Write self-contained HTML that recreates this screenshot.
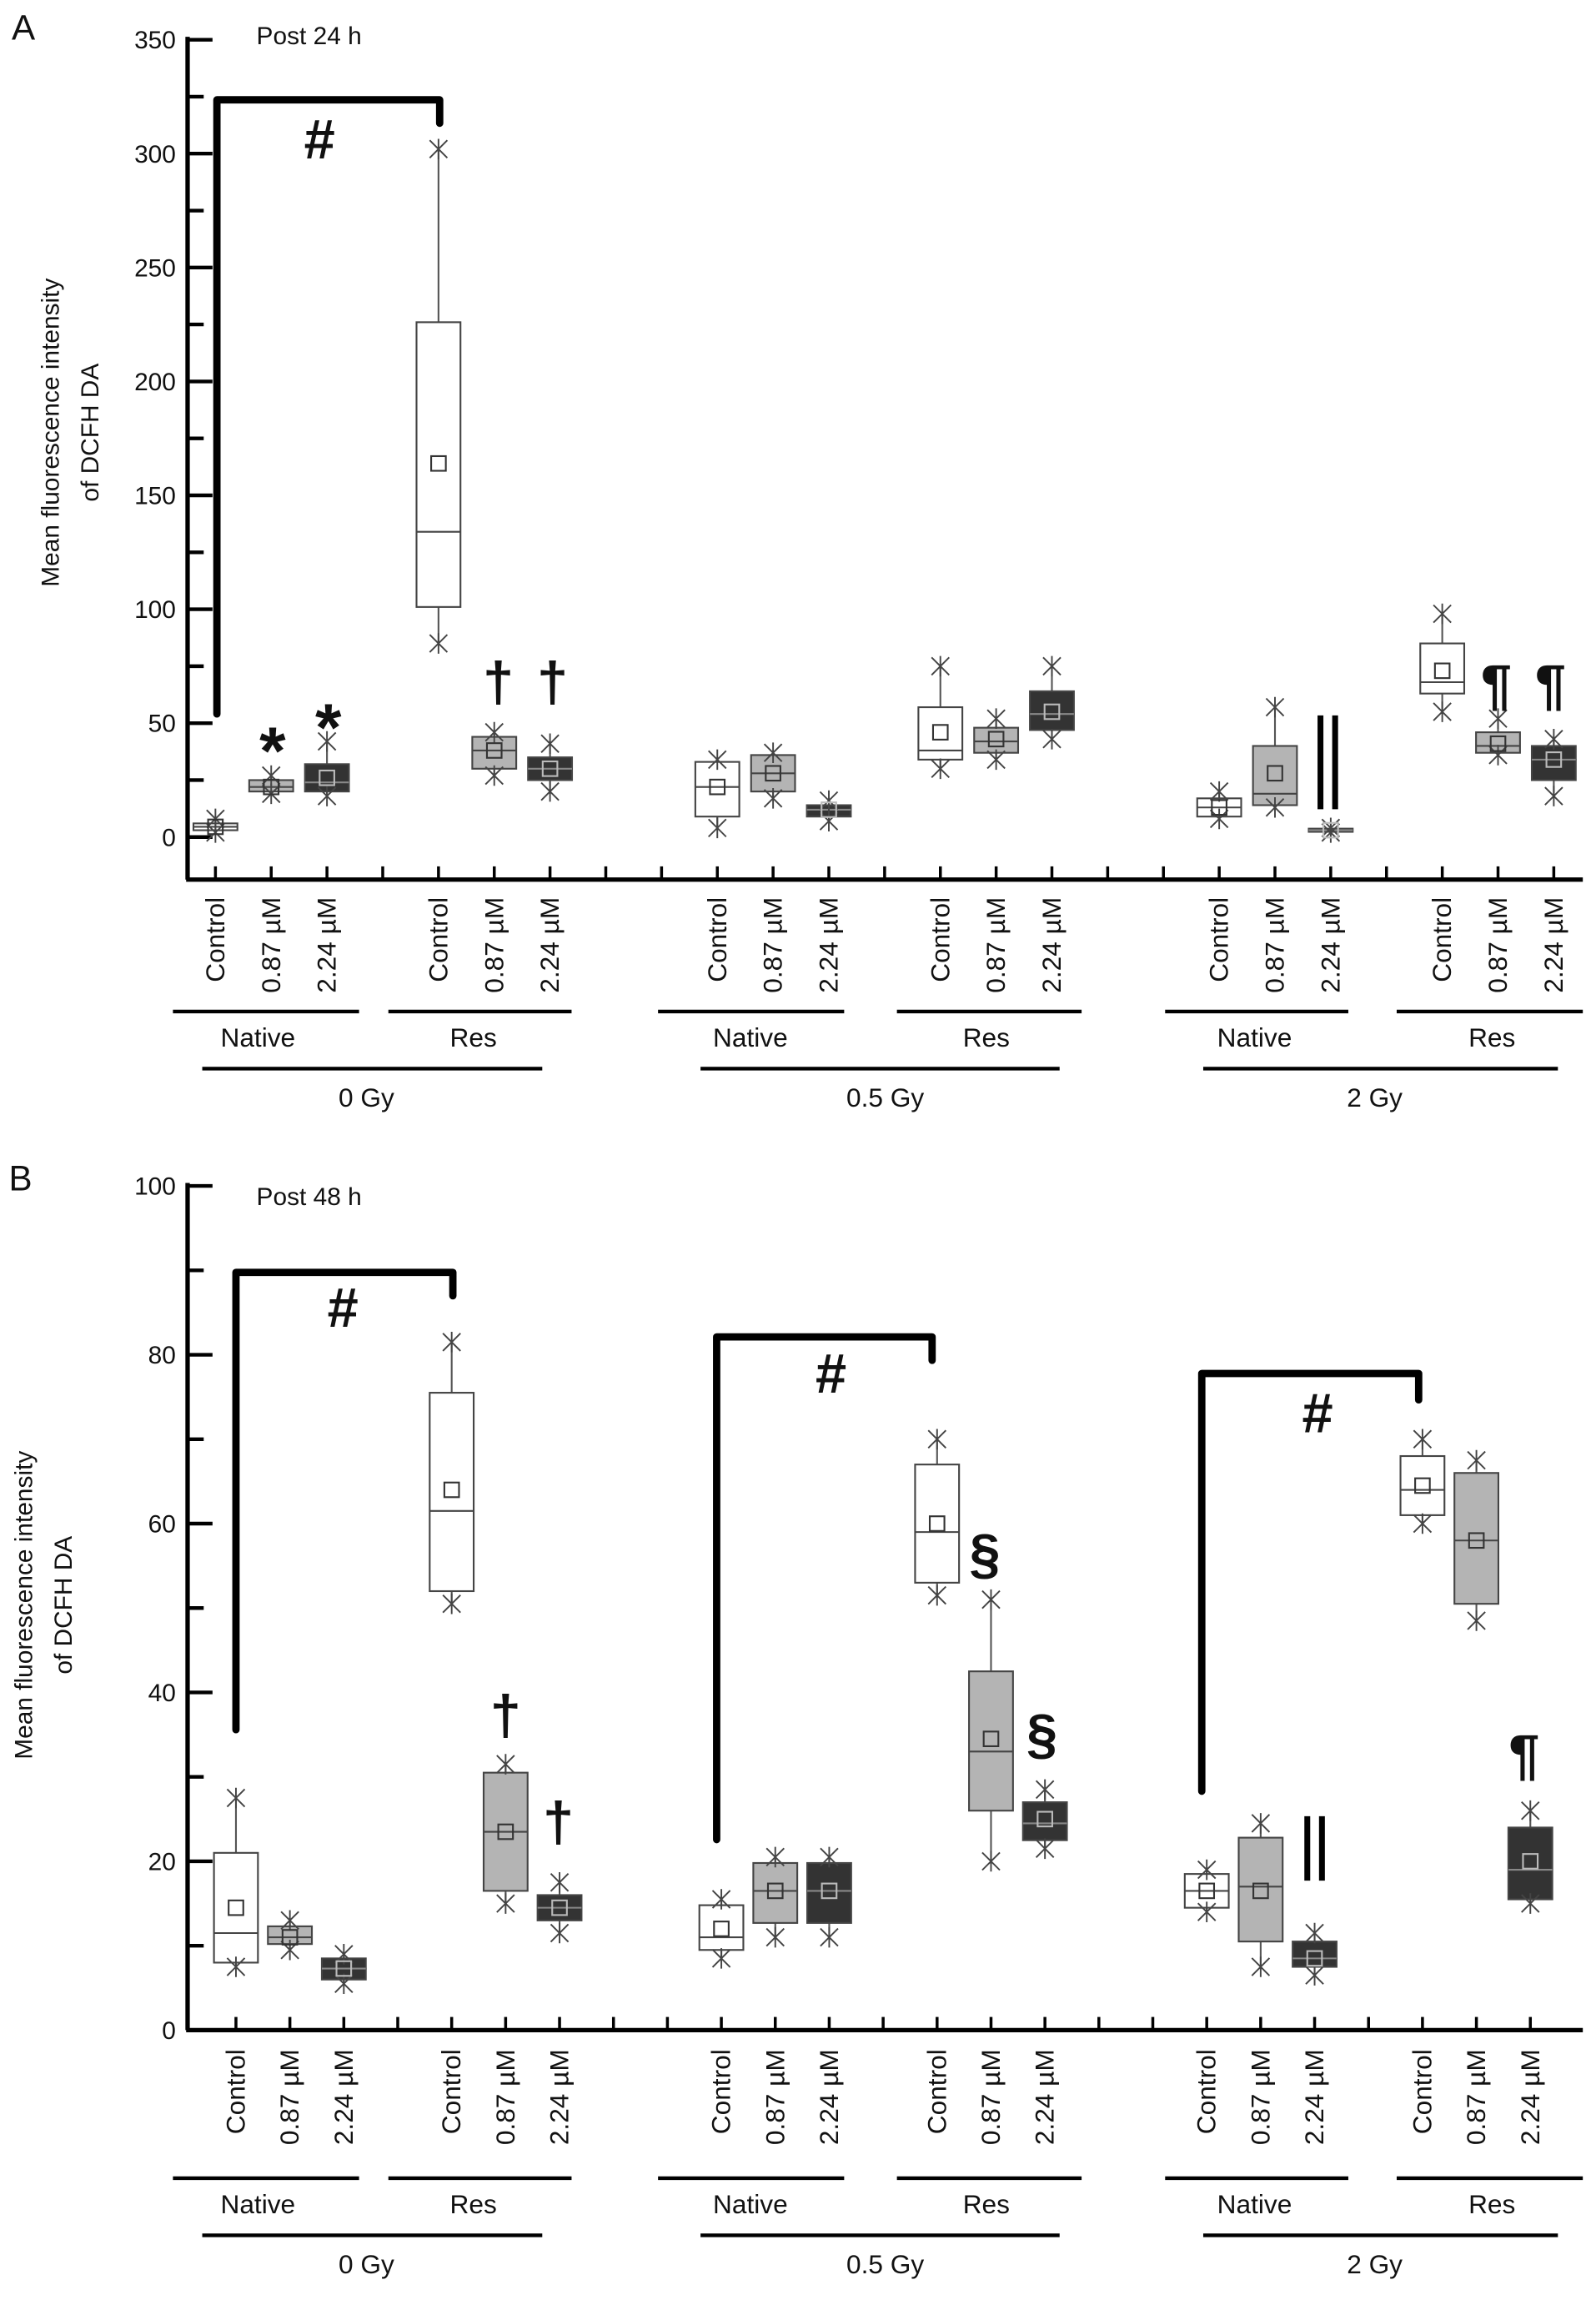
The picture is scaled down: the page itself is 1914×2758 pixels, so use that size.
<!DOCTYPE html>
<html><head><meta charset="utf-8"><style>
html,body{margin:0;padding:0;background:#fff}
svg{display:block}
text{font-family:"Liberation Sans",sans-serif;fill:#111}
</style></head><body>
<svg id="chart" width="1914" height="2758" viewBox="0 0 1089 1569" xmlns="http://www.w3.org/2000/svg"></svg>
<script>
// ---- Panel A data (Post 24 h) ----
const categories = ["Control","0.87 µM","2.24 µM"];
const slotsA = [0,1,2,4,5,6,9,10,11,13,14,15,18,19,20,22,23,24];
const aWhiskLo = [2,19,18,85,27,20,4,17,7,30,34,43,8,13,2,55,36,18];
const aQ1      = [3,20,20,101,30,25,9,20,9,34,37,47,9,14,2.3,63,37,25];
const aMedian  = [4.5,22,24,134,38,30,22,28,12,38,42,54,13,19,3,68,40,34];
const aQ3      = [6,25,32,226,44,35,33,36,14,57,48,64,17,40,3.7,85,46,40];
const aWhiskHi = [8,27,42,302,46,41,34,37,16,75,52,75,20,57,4,98,52,43];
const aMean    = [4.5,22,26,164,38,30,22,28,12,46,43,55,13,28,3,73,41,34];
const aTicks   = [0,50,100,150,200,250,300,350];
// ---- Panel B data (Post 48 h) ----
const slotsB = [0,1,2,4,5,6,9,10,11,13,14,15,18,19,20,22,23,24];
const bWhiskLo = [7.5,9.5,5.5,50.5,15,11.5,8.5,11,11,51.5,20,21.5,14,7.5,6.5,60,48.5,15];
const bQ1      = [8,10.2,6,52,16.5,13,9.5,12.7,12.7,53,26,22.5,14.5,10.5,7.5,61,50.5,15.5];
const bMedian  = [11.5,11,7.3,61.5,23.5,14.5,11,16.5,16.5,59,33,24.5,16.5,17,8.5,64,58,19];
const bQ3      = [21,12.3,8.5,75.5,30.5,16,14.8,19.8,19.8,67,42.5,27,18.5,22.8,10.5,68,66,24];
const bWhiskHi = [27.5,13,9,81.5,31.5,17.5,15.5,20.5,20.5,70,51,28.5,19,24.5,11.5,70,67.5,26];
const bMean    = [14.5,11,7.3,64,23.5,14.5,12,16.5,16.5,60,34.5,25,16.5,16.5,8.5,64.5,58,20];
const bTicks   = [0,20,40,60,80,100];
const fills = ["#ffffff","#b4b4b4","#333333"];

const svg = document.getElementById('chart');
const NS = "http://www.w3.org/2000/svg";
function mk(tag, attrs, parent){const e=document.createElementNS(NS,tag);for(const k in attrs)e.setAttribute(k,attrs[k]);(parent||svg).appendChild(e);return e;}
function txt(x,y,s,size,attrs,parent){const t=mk('text',Object.assign({x:x,y:y,'font-size':size},attrs||{}),parent);t.textContent=s;return t;}

function panel(cfg){
  const g = mk('g',{});
  
  
  const yS = v => cfg.y0 - (v - 0) * (cfg.y0 - cfg.yTop) / cfg.yMax;
  const xS = s => cfg.x0 + s * cfg.step;
  const ya = mk('line',{x1:128,y1:cfg.yTop-2,x2:128,y2:cfg.axisY,stroke:'#000','stroke-width':3},g);
   
  const xa = mk('line',{x1:127,y1:cfg.axisY,x2:1080,y2:cfg.axisY,stroke:'#000','stroke-width':3},g);
   
  const tstep = cfg.ticks[1]-cfg.ticks[0];
  cfg.ticks.forEach((t,i)=>{
    const y=yS(t);
    mk('line',{x1:128,y1:y,x2:145,y2:y,stroke:'#000','stroke-width':2.5},g);
    const l=txt(120,y+6,String(t),17,{'text-anchor':'end'},g);
     
    if(i<cfg.ticks.length-1){const ym=yS(t+tstep/2);mk('line',{x1:128,y1:ym,x2:139,y2:ym,stroke:'#000','stroke-width':2.5},g);}
  });
  for(let s=0;s<=24;s++){mk('line',{x1:xS(s),y1:cfg.axisY,x2:xS(s),y2:cfg.axisY-9,stroke:'#000','stroke-width':2},g);}
  cfg.slots.forEach((s,i)=>{
    const x=xS(s), w=30, ci=i%3;
    const bg=mk('g',{},g);
     
    mk('line',{x1:x,y1:yS(cfg.lo[i]),x2:x,y2:yS(cfg.hi[i]),stroke:'#555','stroke-width':1.2},bg);
    mk('rect',{x:x-w/2,y:yS(cfg.q3[i]),width:w,height:Math.max(1,yS(cfg.q1[i])-yS(cfg.q3[i])),fill:fills[ci],stroke:'#444','stroke-width':1.2},bg);
    mk('line',{x1:x-w/2,y1:yS(cfg.med[i]),x2:x+w/2,y2:yS(cfg.med[i]),stroke:ci==2?'#888':'#444','stroke-width':1.2},bg);
    [cfg.lo[i],cfg.hi[i]].forEach(v=>{const y=yS(v);
      mk('path',{d:`M${x-6},${y-6}L${x+6},${y+6}M${x-6},${y+6}L${x+6},${y-6}M${x},${y-7}L${x},${y+7}`,stroke:'#444','stroke-width':1.1,fill:'none'},bg);});
    const my=yS(cfg.mean[i]);
    mk('rect',{x:x-5,y:my-5,width:10,height:10,fill:'none',stroke:ci==2?'#bbb':'#333','stroke-width':1.2},bg);
    const lab=txt(0,0,categories[ci],18,{'text-anchor':'end',transform:`translate(${x+6},${cfg.labY}) rotate(-90)`},g);
     
  });
  const groups=[[118,245,176,'Native'],[265,390,323,'Res'],[449,576,512,'Native'],[612,738,673,'Res'],[795,920,856,'Native'],[953,1080,1018,'Res']];
  groups.forEach(gr=>{mk('line',{x1:gr[0],y1:cfg.gY,x2:gr[1],y2:cfg.gY,stroke:'#000','stroke-width':2.5},g);
    const t=txt(gr[2],cfg.gY+24,gr[3],18,{'text-anchor':'middle'},g);});
  const doses=[[138,370,250,'0 Gy'],[478,723,604,'0.5 Gy'],[821,1063,938,'2 Gy']];
  doses.forEach(d=>{mk('line',{x1:d[0],y1:cfg.dY,x2:d[1],y2:cfg.dY,stroke:'#000','stroke-width':2.5},g);
    const t=txt(d[2],cfg.dY+26,d[3],18,{'text-anchor':'middle'},g);});
  const pl=txt(cfg.pX,cfg.pY,cfg.letter,24,{},g);
  const pt=txt(175,cfg.postY,cfg.post,17,{},g);
  const yt=txt(0,0,'Mean fluorescence intensity',17,{'text-anchor':'middle',transform:`translate(${cfg.ytX},${cfg.ytY}) rotate(-90)`},g);
  
  const yt2=txt(0,0,'of DCFH DA',17,{'text-anchor':'middle',transform:`translate(${cfg.ytX+27},${cfg.ytY}) rotate(-90)`},g);
  
  cfg.brackets.forEach(b=>{const p=mk('path',{d:`M${b[0]},${b[1]}L${b[0]},${b[2]}L${b[3]},${b[2]}L${b[3]},${b[4]}`,stroke:'#000','stroke-width':5,fill:'none','stroke-linejoin':'round','stroke-linecap':'round'},g);
    });
  cfg.marks.forEach(m=>{
    if(m[2]==='||'){const h=m[3]||40;const p=mk('path',{d:`M${m[0]-5},${m[1]-h}L${m[0]-5},${m[1]}M${m[0]+5},${m[1]-h}L${m[0]+5},${m[1]}`,stroke:'#000','stroke-width':4},g);
      }
    else{const t=txt(m[0],m[1],m[2],m[2]==='*'?46:38,{'text-anchor':'middle','font-weight':'bold'},g);}
  });
}
panel({name:'panel-a',tag:'a',y0:571,yTop:27,yMax:350,axisY:600,x0:147,step:38.05,slots:slotsA,lo:aWhiskLo,q1:aQ1,med:aMedian,q3:aQ3,hi:aWhiskHi,mean:aMean,ticks:aTicks,
  labY:612,gY:690,dY:729,letter:'A',pX:8,pY:27,post:'Post 24 h',postY:30,ytX:40,ytY:295,
  brackets:[[148,487,68,300,84]],
  marks:[[186,528,'*'],[224,512,'*'],[340,478,'†'],[377,478,'†'],[906,552,'||',64],[1021,480,'¶'],[1058,480,'¶'],[218,108,'#']]});
panel({name:'panel-b',tag:'b',y0:1385,yTop:809,yMax:100,axisY:1385,x0:161,step:36.8,slots:slotsB,lo:bWhiskLo,q1:bQ1,med:bMedian,q3:bQ3,hi:bWhiskHi,mean:bMean,ticks:bTicks,
  labY:1398,gY:1486,dY:1525,letter:'B',pX:6,pY:812,post:'Post 48 h',postY:822,ytX:22,ytY:1095,
  brackets:[[161,1180,868,309,884],[489,1255,912,636,928],[820,1222,937,968,955]],
  marks:[[234,905,'#'],[567,950,'#'],[899,977,'#'],[345,1183,'†'],[381,1256,'†'],[672,1073,'§'],[711,1196,'§'],[897,1283,'||',44],[1040,1210,'¶']]});
</script>
</body></html>
